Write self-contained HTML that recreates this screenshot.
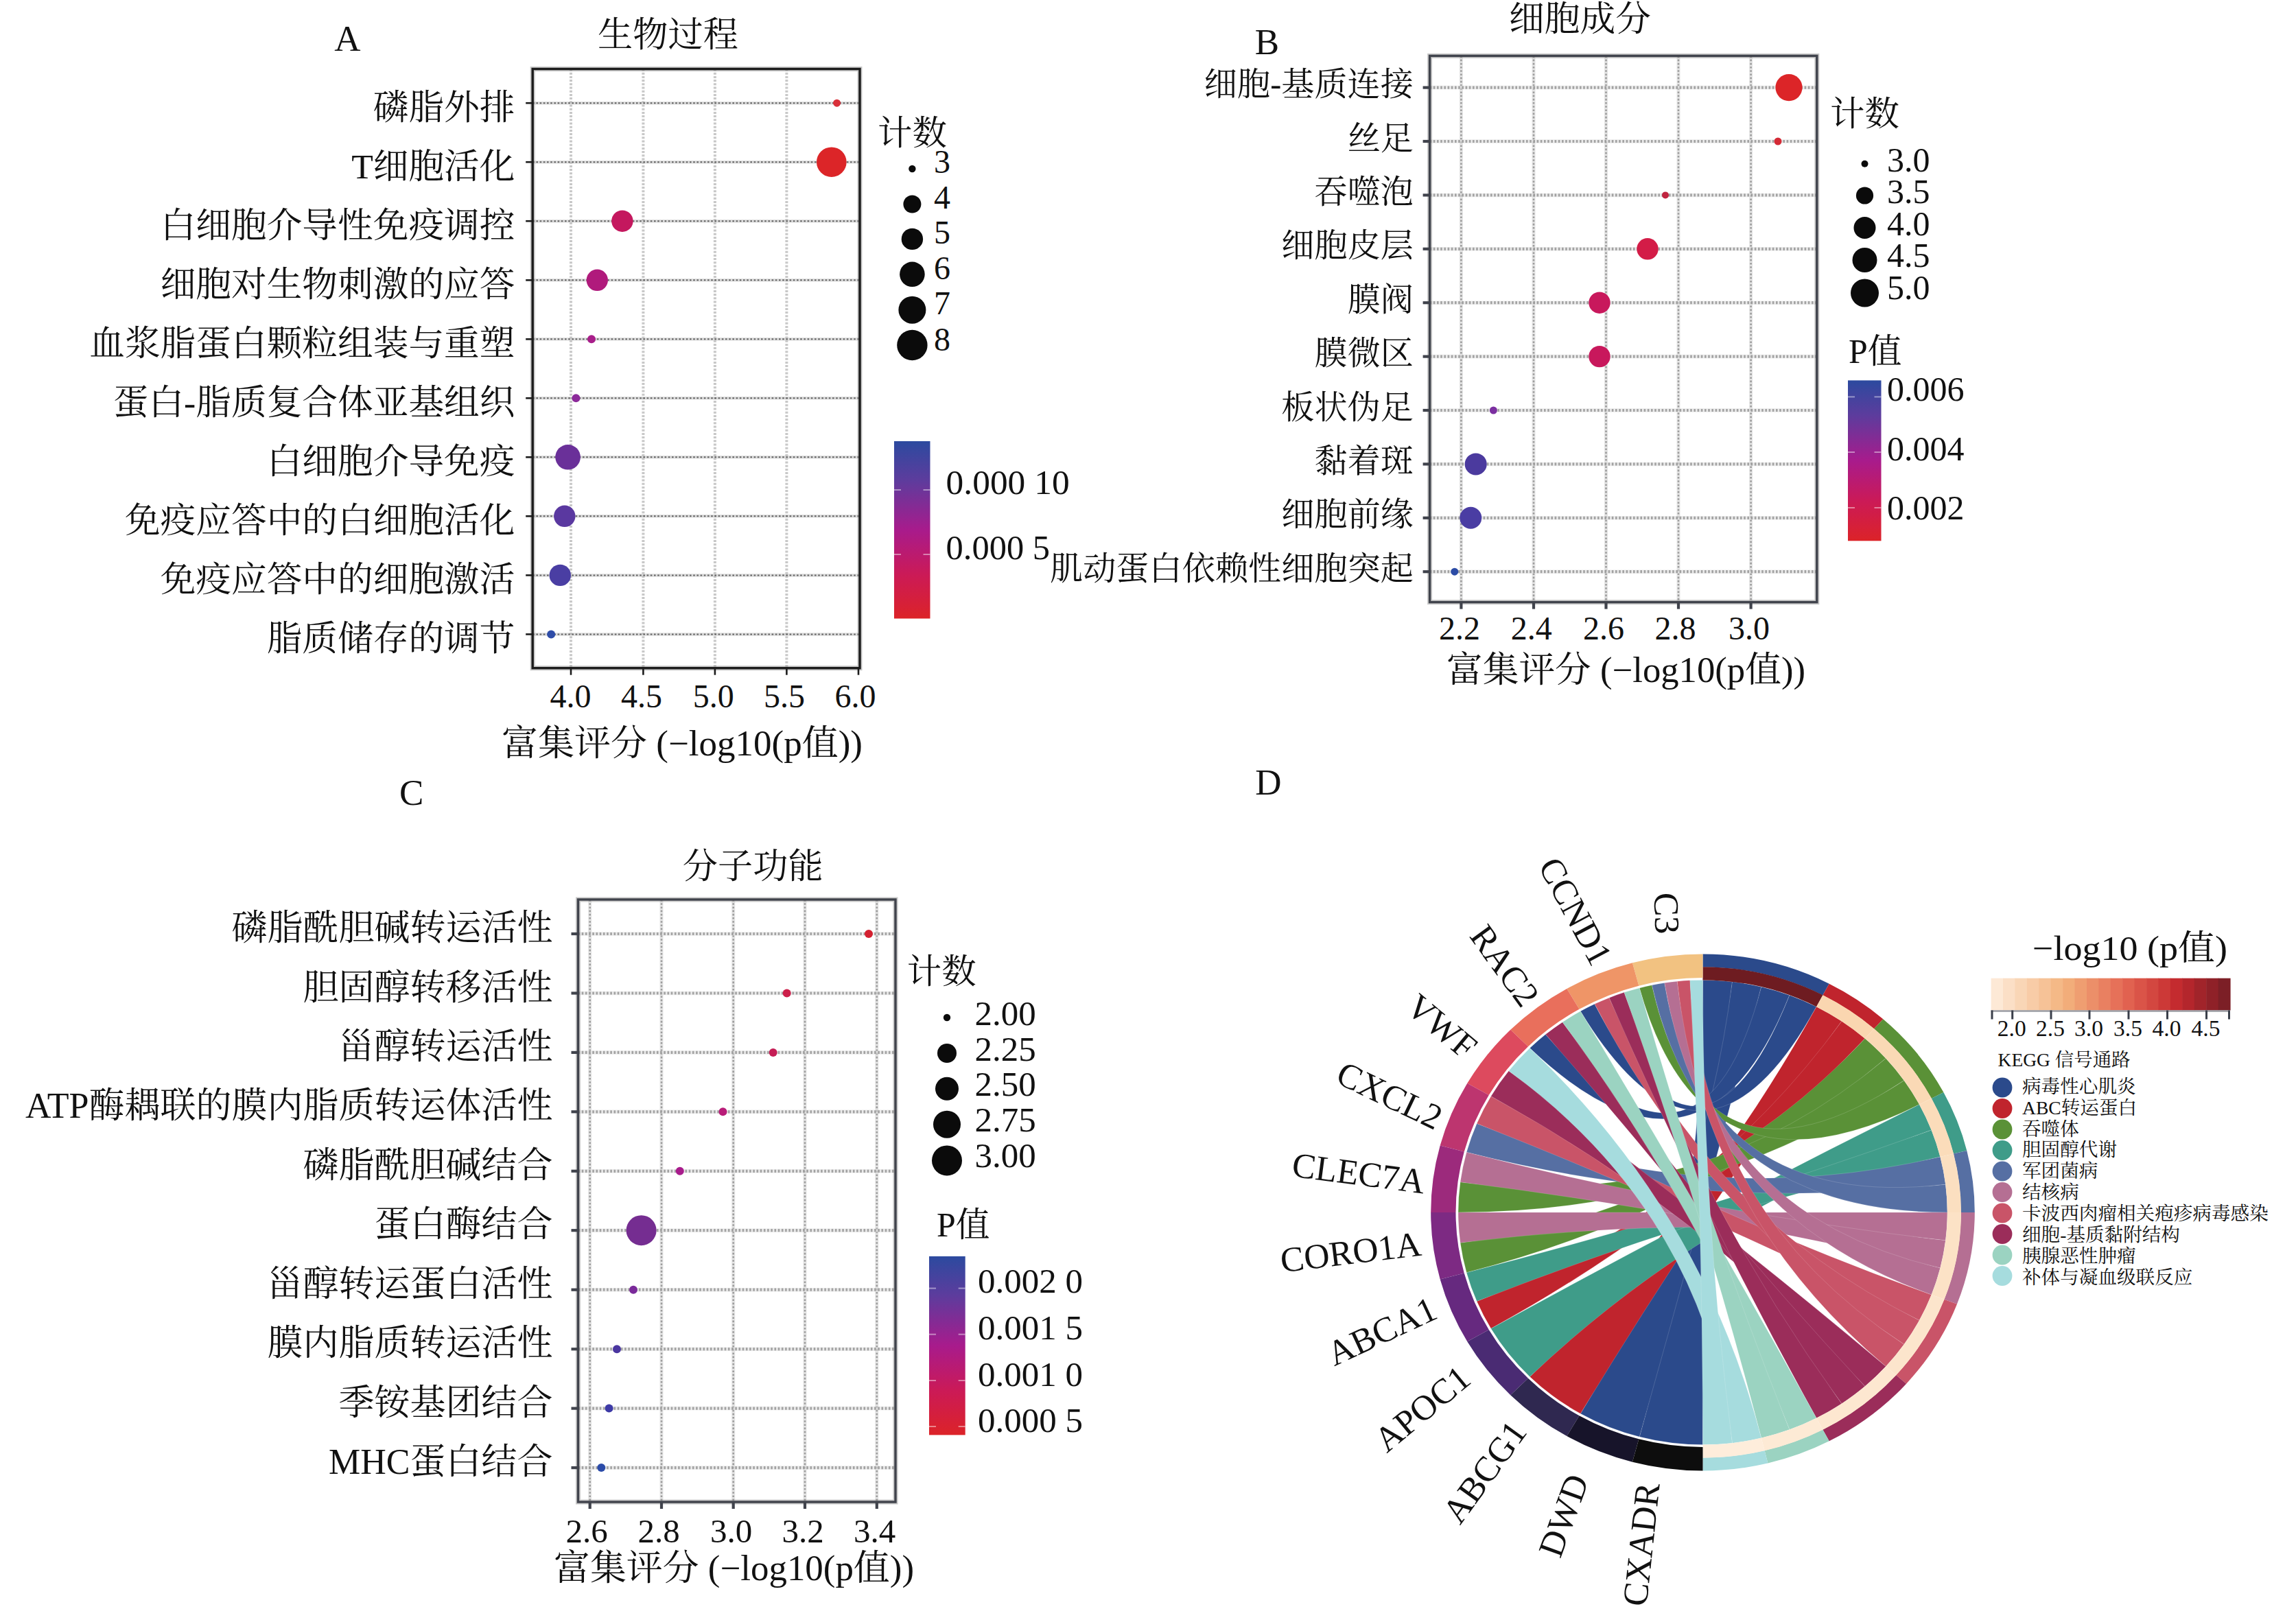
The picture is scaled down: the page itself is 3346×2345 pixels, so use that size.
<!DOCTYPE html><html><head><meta charset="utf-8"><title>figure</title><style>html,body{margin:0;padding:0;background:#fff}svg{display:block}</style></head><body><svg width="3346" height="2345" viewBox="0 0 3346 2345" font-family='"Liberation Serif","Noto Serif CJK SC",serif'>
<rect width="3346" height="2345" fill="#fff"/>
<text x="506.3" y="74.0" font-size="53" text-anchor="middle" fill="#111">A</text>
<text x="871.0" y="68.0" font-size="51.5" textLength="205.0" lengthAdjust="spacingAndGlyphs" fill="#111">生物过程</text>
<line x1="832.0" y1="100.5" x2="832.0" y2="973.7" stroke="#9a9a9a" stroke-opacity=".55" stroke-width="4" stroke-dasharray="3 2.2"/>
<line x1="937.4" y1="100.5" x2="937.4" y2="973.7" stroke="#9a9a9a" stroke-opacity=".55" stroke-width="4" stroke-dasharray="3 2.2"/>
<line x1="1041.9" y1="100.5" x2="1041.9" y2="973.7" stroke="#9a9a9a" stroke-opacity=".55" stroke-width="4" stroke-dasharray="3 2.2"/>
<line x1="1146.4" y1="100.5" x2="1146.4" y2="973.7" stroke="#9a9a9a" stroke-opacity=".55" stroke-width="4" stroke-dasharray="3 2.2"/>
<line x1="776.2" y1="150.2" x2="1253.0" y2="150.2" stroke="#bbb" stroke-opacity=".5" stroke-width="4.5"/>
<line x1="776.2" y1="150.2" x2="1253.0" y2="150.2" stroke="#444" stroke-opacity=".8" stroke-width="2" stroke-dasharray="2.6 2.6"/>
<line x1="776.2" y1="236.2" x2="1253.0" y2="236.2" stroke="#bbb" stroke-opacity=".5" stroke-width="4.5"/>
<line x1="776.2" y1="236.2" x2="1253.0" y2="236.2" stroke="#444" stroke-opacity=".8" stroke-width="2" stroke-dasharray="2.6 2.6"/>
<line x1="776.2" y1="322.2" x2="1253.0" y2="322.2" stroke="#bbb" stroke-opacity=".5" stroke-width="4.5"/>
<line x1="776.2" y1="322.2" x2="1253.0" y2="322.2" stroke="#444" stroke-opacity=".8" stroke-width="2" stroke-dasharray="2.6 2.6"/>
<line x1="776.2" y1="408.3" x2="1253.0" y2="408.3" stroke="#bbb" stroke-opacity=".5" stroke-width="4.5"/>
<line x1="776.2" y1="408.3" x2="1253.0" y2="408.3" stroke="#444" stroke-opacity=".8" stroke-width="2" stroke-dasharray="2.6 2.6"/>
<line x1="776.2" y1="494.3" x2="1253.0" y2="494.3" stroke="#bbb" stroke-opacity=".5" stroke-width="4.5"/>
<line x1="776.2" y1="494.3" x2="1253.0" y2="494.3" stroke="#444" stroke-opacity=".8" stroke-width="2" stroke-dasharray="2.6 2.6"/>
<line x1="776.2" y1="580.3" x2="1253.0" y2="580.3" stroke="#bbb" stroke-opacity=".5" stroke-width="4.5"/>
<line x1="776.2" y1="580.3" x2="1253.0" y2="580.3" stroke="#444" stroke-opacity=".8" stroke-width="2" stroke-dasharray="2.6 2.6"/>
<line x1="776.2" y1="666.3" x2="1253.0" y2="666.3" stroke="#bbb" stroke-opacity=".5" stroke-width="4.5"/>
<line x1="776.2" y1="666.3" x2="1253.0" y2="666.3" stroke="#444" stroke-opacity=".8" stroke-width="2" stroke-dasharray="2.6 2.6"/>
<line x1="776.2" y1="752.3" x2="1253.0" y2="752.3" stroke="#bbb" stroke-opacity=".5" stroke-width="4.5"/>
<line x1="776.2" y1="752.3" x2="1253.0" y2="752.3" stroke="#444" stroke-opacity=".8" stroke-width="2" stroke-dasharray="2.6 2.6"/>
<line x1="776.2" y1="838.4" x2="1253.0" y2="838.4" stroke="#bbb" stroke-opacity=".5" stroke-width="4.5"/>
<line x1="776.2" y1="838.4" x2="1253.0" y2="838.4" stroke="#444" stroke-opacity=".8" stroke-width="2" stroke-dasharray="2.6 2.6"/>
<line x1="776.2" y1="924.4" x2="1253.0" y2="924.4" stroke="#bbb" stroke-opacity=".5" stroke-width="4.5"/>
<line x1="776.2" y1="924.4" x2="1253.0" y2="924.4" stroke="#444" stroke-opacity=".8" stroke-width="2" stroke-dasharray="2.6 2.6"/>
<rect x="776.2" y="100.5" width="476.8" height="873.2" fill="none" stroke="#888" stroke-opacity=".45" stroke-width="7"/>
<rect x="776.2" y="100.5" width="476.8" height="873.2" fill="none" stroke="#1c1c1c" stroke-width="3.4"/>
<line x1="766.2" y1="150.2" x2="776.2" y2="150.2" stroke="#1c1c1c" stroke-width="2.6"/>
<line x1="766.2" y1="236.2" x2="776.2" y2="236.2" stroke="#1c1c1c" stroke-width="2.6"/>
<line x1="766.2" y1="322.2" x2="776.2" y2="322.2" stroke="#1c1c1c" stroke-width="2.6"/>
<line x1="766.2" y1="408.3" x2="776.2" y2="408.3" stroke="#1c1c1c" stroke-width="2.6"/>
<line x1="766.2" y1="494.3" x2="776.2" y2="494.3" stroke="#1c1c1c" stroke-width="2.6"/>
<line x1="766.2" y1="580.3" x2="776.2" y2="580.3" stroke="#1c1c1c" stroke-width="2.6"/>
<line x1="766.2" y1="666.3" x2="776.2" y2="666.3" stroke="#1c1c1c" stroke-width="2.6"/>
<line x1="766.2" y1="752.3" x2="776.2" y2="752.3" stroke="#1c1c1c" stroke-width="2.6"/>
<line x1="766.2" y1="838.4" x2="776.2" y2="838.4" stroke="#1c1c1c" stroke-width="2.6"/>
<line x1="766.2" y1="924.4" x2="776.2" y2="924.4" stroke="#1c1c1c" stroke-width="2.6"/>
<line x1="832.0" y1="973.7" x2="832.0" y2="983.7" stroke="#1c1c1c" stroke-width="2.6"/>
<line x1="937.4" y1="973.7" x2="937.4" y2="983.7" stroke="#1c1c1c" stroke-width="2.6"/>
<line x1="1041.9" y1="973.7" x2="1041.9" y2="983.7" stroke="#1c1c1c" stroke-width="2.6"/>
<line x1="1146.4" y1="973.7" x2="1146.4" y2="983.7" stroke="#1c1c1c" stroke-width="2.6"/>
<line x1="1251.0" y1="973.7" x2="1251.0" y2="983.7" stroke="#1c1c1c" stroke-width="2.6"/>
<circle cx="1219.6" cy="150.2" r="5.5" fill="#d9303a"/>
<circle cx="1211.8" cy="236.2" r="21.8" fill="#dc2528"/>
<circle cx="906.9" cy="322.2" r="15.7" fill="#c4185e"/>
<circle cx="870.3" cy="408.3" r="15.7" fill="#b01a7c"/>
<circle cx="862.0" cy="494.3" r="6.0" fill="#a81e8a"/>
<circle cx="839.4" cy="580.3" r="6.0" fill="#8c2a9a"/>
<circle cx="827.6" cy="666.3" r="18.3" fill="#6a3099"/>
<circle cx="822.8" cy="752.3" r="15.7" fill="#5a38a0"/>
<circle cx="816.3" cy="838.4" r="15.7" fill="#4a3ea3"/>
<circle cx="803.2" cy="924.4" r="6.0" fill="#2f4da8"/>
<text x="750.5" y="173.7" font-size="51.7" text-anchor="end" fill="#111">磷脂外排</text>
<text x="750.5" y="259.7" font-size="51.7" text-anchor="end" fill="#111">T细胞活化</text>
<text x="750.5" y="345.7" font-size="51.7" text-anchor="end" fill="#111">白细胞介导性免疫调控</text>
<text x="750.5" y="431.8" font-size="51.7" text-anchor="end" fill="#111">细胞对生物刺激的应答</text>
<text x="750.5" y="517.8" font-size="51.7" text-anchor="end" fill="#111">血浆脂蛋白颗粒组装与重塑</text>
<text x="750.5" y="603.8" font-size="51.7" text-anchor="end" fill="#111">蛋白-脂质复合体亚基组织</text>
<text x="750.5" y="689.8" font-size="51.7" text-anchor="end" fill="#111">白细胞介导免疫</text>
<text x="750.5" y="775.8" font-size="51.7" text-anchor="end" fill="#111">免疫应答中的白细胞活化</text>
<text x="750.5" y="861.9" font-size="51.7" text-anchor="end" fill="#111">免疫应答中的细胞激活</text>
<text x="750.5" y="947.9" font-size="51.7" text-anchor="end" fill="#111">脂质储存的调节</text>
<text x="831.5" y="1030.5" font-size="48" text-anchor="middle" fill="#111">4.0</text>
<text x="935.0" y="1030.5" font-size="48" text-anchor="middle" fill="#111">4.5</text>
<text x="1039.7" y="1030.5" font-size="48" text-anchor="middle" fill="#111">5.0</text>
<text x="1143.0" y="1030.5" font-size="48" text-anchor="middle" fill="#111">5.5</text>
<text x="1246.6" y="1030.5" font-size="48" text-anchor="middle" fill="#111">6.0</text>
<text x="731.0" y="1101.0" font-size="52" textLength="526.0" lengthAdjust="spacingAndGlyphs" fill="#111">富集评分 (−log10(p值))</text>
<text x="1279.0" y="211.0" font-size="50.5" fill="#111">计数</text>
<circle cx="1329.4" cy="246.0" r="5.2" fill="#0b0b0b"/>
<circle cx="1329.4" cy="297.5" r="13.0" fill="#0b0b0b"/>
<circle cx="1329.4" cy="348.4" r="15.7" fill="#0b0b0b"/>
<circle cx="1329.4" cy="399.8" r="18.3" fill="#0b0b0b"/>
<circle cx="1329.4" cy="451.7" r="20.0" fill="#0b0b0b"/>
<circle cx="1329.4" cy="503.0" r="22.2" fill="#0b0b0b"/>
<text x="1361.0" y="251.7" font-size="48" fill="#111">3</text>
<text x="1361.0" y="303.6" font-size="48" fill="#111">4</text>
<text x="1361.0" y="355.0" font-size="48" fill="#111">5</text>
<text x="1361.0" y="407.0" font-size="48" fill="#111">6</text>
<text x="1361.0" y="458.0" font-size="48" fill="#111">7</text>
<text x="1361.0" y="510.5" font-size="48" fill="#111">8</text>
<defs><linearGradient id="gA" x1="0" y1="0" x2="0" y2="1"><stop offset="0" stop-color="#2c4a9f"/><stop offset=".22" stop-color="#5d3c9d"/><stop offset=".5" stop-color="#a81b8c"/><stop offset=".75" stop-color="#cb1a57"/><stop offset="1" stop-color="#dc2328"/></linearGradient></defs>
<rect x="1303.0" y="643.0" width="52.5" height="258.5" fill="url(#gA)"/>
<line x1="1303.0" y1="714.0" x2="1313.0" y2="714.0" stroke="#fff" stroke-opacity=".45" stroke-width="2"/>
<line x1="1345.5" y1="714.0" x2="1355.5" y2="714.0" stroke="#fff" stroke-opacity=".45" stroke-width="2"/>
<line x1="1303.0" y1="808.0" x2="1313.0" y2="808.0" stroke="#fff" stroke-opacity=".45" stroke-width="2"/>
<line x1="1345.5" y1="808.0" x2="1355.5" y2="808.0" stroke="#fff" stroke-opacity=".45" stroke-width="2"/>
<text x="1378.6" y="720.0" font-size="50" textLength="180.0" lengthAdjust="spacingAndGlyphs" fill="#111">0.000 10</text>
<text x="1378.6" y="814.5" font-size="50" textLength="151.5" lengthAdjust="spacingAndGlyphs" fill="#111">0.000 5</text>
<text x="1846.5" y="79.0" font-size="53" text-anchor="middle" fill="#111">B</text>
<text x="2199.0" y="45.0" font-size="51.5" textLength="207.0" lengthAdjust="spacingAndGlyphs" fill="#111">细胞成分</text>
<line x1="2129.4" y1="81.4" x2="2129.4" y2="877.6" stroke="#ccc" stroke-opacity=".5" stroke-width="5"/>
<line x1="2129.4" y1="81.4" x2="2129.4" y2="877.6" stroke="#777" stroke-opacity=".65" stroke-width="2.6" stroke-dasharray="2.6 2.6"/>
<line x1="2235.0" y1="81.4" x2="2235.0" y2="877.6" stroke="#ccc" stroke-opacity=".5" stroke-width="5"/>
<line x1="2235.0" y1="81.4" x2="2235.0" y2="877.6" stroke="#777" stroke-opacity=".65" stroke-width="2.6" stroke-dasharray="2.6 2.6"/>
<line x1="2340.5" y1="81.4" x2="2340.5" y2="877.6" stroke="#ccc" stroke-opacity=".5" stroke-width="5"/>
<line x1="2340.5" y1="81.4" x2="2340.5" y2="877.6" stroke="#777" stroke-opacity=".65" stroke-width="2.6" stroke-dasharray="2.6 2.6"/>
<line x1="2446.0" y1="81.4" x2="2446.0" y2="877.6" stroke="#ccc" stroke-opacity=".5" stroke-width="5"/>
<line x1="2446.0" y1="81.4" x2="2446.0" y2="877.6" stroke="#777" stroke-opacity=".65" stroke-width="2.6" stroke-dasharray="2.6 2.6"/>
<line x1="2551.6" y1="81.4" x2="2551.6" y2="877.6" stroke="#ccc" stroke-opacity=".5" stroke-width="5"/>
<line x1="2551.6" y1="81.4" x2="2551.6" y2="877.6" stroke="#777" stroke-opacity=".65" stroke-width="2.6" stroke-dasharray="2.6 2.6"/>
<line x1="2083.6" y1="127.6" x2="2647.8" y2="127.6" stroke="#ddd" stroke-opacity=".6" stroke-width="5.5"/>
<line x1="2083.6" y1="127.6" x2="2647.8" y2="127.6" stroke="#858585" stroke-opacity=".7" stroke-width="4.2" stroke-dasharray="2.6 2.6"/>
<line x1="2083.6" y1="206.0" x2="2647.8" y2="206.0" stroke="#ddd" stroke-opacity=".6" stroke-width="5.5"/>
<line x1="2083.6" y1="206.0" x2="2647.8" y2="206.0" stroke="#858585" stroke-opacity=".7" stroke-width="4.2" stroke-dasharray="2.6 2.6"/>
<line x1="2083.6" y1="284.4" x2="2647.8" y2="284.4" stroke="#ddd" stroke-opacity=".6" stroke-width="5.5"/>
<line x1="2083.6" y1="284.4" x2="2647.8" y2="284.4" stroke="#858585" stroke-opacity=".7" stroke-width="4.2" stroke-dasharray="2.6 2.6"/>
<line x1="2083.6" y1="362.8" x2="2647.8" y2="362.8" stroke="#ddd" stroke-opacity=".6" stroke-width="5.5"/>
<line x1="2083.6" y1="362.8" x2="2647.8" y2="362.8" stroke="#858585" stroke-opacity=".7" stroke-width="4.2" stroke-dasharray="2.6 2.6"/>
<line x1="2083.6" y1="441.2" x2="2647.8" y2="441.2" stroke="#ddd" stroke-opacity=".6" stroke-width="5.5"/>
<line x1="2083.6" y1="441.2" x2="2647.8" y2="441.2" stroke="#858585" stroke-opacity=".7" stroke-width="4.2" stroke-dasharray="2.6 2.6"/>
<line x1="2083.6" y1="519.6" x2="2647.8" y2="519.6" stroke="#ddd" stroke-opacity=".6" stroke-width="5.5"/>
<line x1="2083.6" y1="519.6" x2="2647.8" y2="519.6" stroke="#858585" stroke-opacity=".7" stroke-width="4.2" stroke-dasharray="2.6 2.6"/>
<line x1="2083.6" y1="598.0" x2="2647.8" y2="598.0" stroke="#ddd" stroke-opacity=".6" stroke-width="5.5"/>
<line x1="2083.6" y1="598.0" x2="2647.8" y2="598.0" stroke="#858585" stroke-opacity=".7" stroke-width="4.2" stroke-dasharray="2.6 2.6"/>
<line x1="2083.6" y1="676.4" x2="2647.8" y2="676.4" stroke="#ddd" stroke-opacity=".6" stroke-width="5.5"/>
<line x1="2083.6" y1="676.4" x2="2647.8" y2="676.4" stroke="#858585" stroke-opacity=".7" stroke-width="4.2" stroke-dasharray="2.6 2.6"/>
<line x1="2083.6" y1="754.8" x2="2647.8" y2="754.8" stroke="#ddd" stroke-opacity=".6" stroke-width="5.5"/>
<line x1="2083.6" y1="754.8" x2="2647.8" y2="754.8" stroke="#858585" stroke-opacity=".7" stroke-width="4.2" stroke-dasharray="2.6 2.6"/>
<line x1="2083.6" y1="833.2" x2="2647.8" y2="833.2" stroke="#ddd" stroke-opacity=".6" stroke-width="5.5"/>
<line x1="2083.6" y1="833.2" x2="2647.8" y2="833.2" stroke="#858585" stroke-opacity=".7" stroke-width="4.2" stroke-dasharray="2.6 2.6"/>
<rect x="2083.6" y="81.4" width="564.2" height="796.2" fill="none" stroke="#888" stroke-opacity=".45" stroke-width="7"/>
<rect x="2083.6" y="81.4" width="564.2" height="796.2" fill="none" stroke="#40434c" stroke-width="3.4"/>
<line x1="2073.6" y1="127.6" x2="2083.6" y2="127.6" stroke="#40434c" stroke-width="4.2"/>
<line x1="2073.6" y1="206.0" x2="2083.6" y2="206.0" stroke="#40434c" stroke-width="4.2"/>
<line x1="2073.6" y1="284.4" x2="2083.6" y2="284.4" stroke="#40434c" stroke-width="4.2"/>
<line x1="2073.6" y1="362.8" x2="2083.6" y2="362.8" stroke="#40434c" stroke-width="4.2"/>
<line x1="2073.6" y1="441.2" x2="2083.6" y2="441.2" stroke="#40434c" stroke-width="4.2"/>
<line x1="2073.6" y1="519.6" x2="2083.6" y2="519.6" stroke="#40434c" stroke-width="4.2"/>
<line x1="2073.6" y1="598.0" x2="2083.6" y2="598.0" stroke="#40434c" stroke-width="4.2"/>
<line x1="2073.6" y1="676.4" x2="2083.6" y2="676.4" stroke="#40434c" stroke-width="4.2"/>
<line x1="2073.6" y1="754.8" x2="2083.6" y2="754.8" stroke="#40434c" stroke-width="4.2"/>
<line x1="2073.6" y1="833.2" x2="2083.6" y2="833.2" stroke="#40434c" stroke-width="4.2"/>
<line x1="2129.4" y1="877.6" x2="2129.4" y2="887.6" stroke="#40434c" stroke-width="4.2"/>
<line x1="2235.0" y1="877.6" x2="2235.0" y2="887.6" stroke="#40434c" stroke-width="4.2"/>
<line x1="2340.5" y1="877.6" x2="2340.5" y2="887.6" stroke="#40434c" stroke-width="4.2"/>
<line x1="2446.0" y1="877.6" x2="2446.0" y2="887.6" stroke="#40434c" stroke-width="4.2"/>
<line x1="2551.6" y1="877.6" x2="2551.6" y2="887.6" stroke="#40434c" stroke-width="4.2"/>
<circle cx="2607.0" cy="127.6" r="19.6" fill="#dc2528"/>
<circle cx="2591.0" cy="206.0" r="5.5" fill="#d42a35"/>
<circle cx="2427.0" cy="284.4" r="5.0" fill="#c0243f"/>
<circle cx="2401.0" cy="362.8" r="15.7" fill="#d31c47"/>
<circle cx="2331.0" cy="441.2" r="15.7" fill="#c8185c"/>
<circle cx="2331.0" cy="519.6" r="15.7" fill="#c8185c"/>
<circle cx="2176.4" cy="598.0" r="5.5" fill="#7b2fa0"/>
<circle cx="2150.7" cy="676.4" r="16.0" fill="#4b3a9e"/>
<circle cx="2143.3" cy="754.8" r="16.0" fill="#4a3da3"/>
<circle cx="2119.8" cy="833.2" r="5.5" fill="#2b4ba5"/>
<text x="2060.0" y="139.1" font-size="48.2" text-anchor="end" fill="#111">细胞-基质连接</text>
<text x="2060.0" y="217.5" font-size="48.2" text-anchor="end" fill="#111">丝足</text>
<text x="2060.0" y="295.9" font-size="48.2" text-anchor="end" fill="#111">吞噬泡</text>
<text x="2060.0" y="374.3" font-size="48.2" text-anchor="end" fill="#111">细胞皮层</text>
<text x="2060.0" y="452.7" font-size="48.2" text-anchor="end" fill="#111">膜阀</text>
<text x="2060.0" y="531.1" font-size="48.2" text-anchor="end" fill="#111">膜微区</text>
<text x="2060.0" y="609.5" font-size="48.2" text-anchor="end" fill="#111">板状伪足</text>
<text x="2060.0" y="687.9" font-size="48.2" text-anchor="end" fill="#111">黏着斑</text>
<text x="2060.0" y="766.3" font-size="48.2" text-anchor="end" fill="#111">细胞前缘</text>
<text x="2060.0" y="844.7" font-size="48.2" text-anchor="end" fill="#111">肌动蛋白依赖性细胞突起</text>
<text x="2127.0" y="932.0" font-size="48" text-anchor="middle" fill="#111">2.2</text>
<text x="2231.7" y="932.0" font-size="48" text-anchor="middle" fill="#111">2.4</text>
<text x="2337.0" y="932.0" font-size="48" text-anchor="middle" fill="#111">2.6</text>
<text x="2441.6" y="932.0" font-size="48" text-anchor="middle" fill="#111">2.8</text>
<text x="2549.0" y="932.0" font-size="48" text-anchor="middle" fill="#111">3.0</text>
<text x="2108.0" y="994.0" font-size="52" textLength="523.0" lengthAdjust="spacingAndGlyphs" fill="#111">富集评分 (−log10(p值))</text>
<text x="2667.0" y="183.0" font-size="50.5" fill="#111">计数</text>
<circle cx="2717.5" cy="238.7" r="5.0" fill="#0b0b0b"/>
<circle cx="2717.5" cy="285.0" r="12.6" fill="#0b0b0b"/>
<circle cx="2717.5" cy="332.0" r="16.0" fill="#0b0b0b"/>
<circle cx="2717.5" cy="379.0" r="18.0" fill="#0b0b0b"/>
<circle cx="2717.5" cy="427.0" r="20.5" fill="#0b0b0b"/>
<text x="2750.0" y="250.0" font-size="50" fill="#111">3.0</text>
<text x="2750.0" y="296.0" font-size="50" fill="#111">3.5</text>
<text x="2750.0" y="343.0" font-size="50" fill="#111">4.0</text>
<text x="2750.0" y="389.0" font-size="50" fill="#111">4.5</text>
<text x="2750.0" y="435.5" font-size="50" fill="#111">5.0</text>
<text x="2694.0" y="529.0" font-size="50" textLength="77.5" lengthAdjust="spacingAndGlyphs" fill="#111">P值</text>
<defs><linearGradient id="gB" x1="0" y1="0" x2="0" y2="1"><stop offset="0" stop-color="#2c4a9f"/><stop offset=".22" stop-color="#5d3c9d"/><stop offset=".5" stop-color="#a81b8c"/><stop offset=".75" stop-color="#cb1a57"/><stop offset="1" stop-color="#dc2328"/></linearGradient></defs>
<rect x="2693.0" y="554.4" width="48.5" height="233.9" fill="url(#gB)"/>
<line x1="2693.0" y1="578.4" x2="2703.0" y2="578.4" stroke="#fff" stroke-opacity=".45" stroke-width="2"/>
<line x1="2731.5" y1="578.4" x2="2741.5" y2="578.4" stroke="#fff" stroke-opacity=".45" stroke-width="2"/>
<line x1="2693.0" y1="659.0" x2="2703.0" y2="659.0" stroke="#fff" stroke-opacity=".45" stroke-width="2"/>
<line x1="2731.5" y1="659.0" x2="2741.5" y2="659.0" stroke="#fff" stroke-opacity=".45" stroke-width="2"/>
<line x1="2693.0" y1="740.0" x2="2703.0" y2="740.0" stroke="#fff" stroke-opacity=".45" stroke-width="2"/>
<line x1="2731.5" y1="740.0" x2="2741.5" y2="740.0" stroke="#fff" stroke-opacity=".45" stroke-width="2"/>
<text x="2750.0" y="583.6" font-size="50" fill="#111">0.006</text>
<text x="2750.0" y="670.7" font-size="50" fill="#111">0.004</text>
<text x="2750.0" y="757.0" font-size="50" fill="#111">0.002</text>
<text x="599.8" y="1173.0" font-size="53" text-anchor="middle" fill="#111">C</text>
<text x="994.7" y="1280.0" font-size="51.5" textLength="205.0" lengthAdjust="spacingAndGlyphs" fill="#111">分子功能</text>
<line x1="859.7" y1="1311.0" x2="859.7" y2="2189.0" stroke="#ccc" stroke-opacity=".5" stroke-width="5"/>
<line x1="859.7" y1="1311.0" x2="859.7" y2="2189.0" stroke="#777" stroke-opacity=".65" stroke-width="2.6" stroke-dasharray="2.6 2.6"/>
<line x1="964.0" y1="1311.0" x2="964.0" y2="2189.0" stroke="#ccc" stroke-opacity=".5" stroke-width="5"/>
<line x1="964.0" y1="1311.0" x2="964.0" y2="2189.0" stroke="#777" stroke-opacity=".65" stroke-width="2.6" stroke-dasharray="2.6 2.6"/>
<line x1="1068.7" y1="1311.0" x2="1068.7" y2="2189.0" stroke="#ccc" stroke-opacity=".5" stroke-width="5"/>
<line x1="1068.7" y1="1311.0" x2="1068.7" y2="2189.0" stroke="#777" stroke-opacity=".65" stroke-width="2.6" stroke-dasharray="2.6 2.6"/>
<line x1="1173.0" y1="1311.0" x2="1173.0" y2="2189.0" stroke="#ccc" stroke-opacity=".5" stroke-width="5"/>
<line x1="1173.0" y1="1311.0" x2="1173.0" y2="2189.0" stroke="#777" stroke-opacity=".65" stroke-width="2.6" stroke-dasharray="2.6 2.6"/>
<line x1="1277.8" y1="1311.0" x2="1277.8" y2="2189.0" stroke="#ccc" stroke-opacity=".5" stroke-width="5"/>
<line x1="1277.8" y1="1311.0" x2="1277.8" y2="2189.0" stroke="#777" stroke-opacity=".65" stroke-width="2.6" stroke-dasharray="2.6 2.6"/>
<line x1="842.5" y1="1361.0" x2="1305.0" y2="1361.0" stroke="#ddd" stroke-opacity=".6" stroke-width="5.5"/>
<line x1="842.5" y1="1361.0" x2="1305.0" y2="1361.0" stroke="#858585" stroke-opacity=".7" stroke-width="4.2" stroke-dasharray="2.6 2.6"/>
<line x1="842.5" y1="1447.5" x2="1305.0" y2="1447.5" stroke="#ddd" stroke-opacity=".6" stroke-width="5.5"/>
<line x1="842.5" y1="1447.5" x2="1305.0" y2="1447.5" stroke="#858585" stroke-opacity=".7" stroke-width="4.2" stroke-dasharray="2.6 2.6"/>
<line x1="842.5" y1="1533.9" x2="1305.0" y2="1533.9" stroke="#ddd" stroke-opacity=".6" stroke-width="5.5"/>
<line x1="842.5" y1="1533.9" x2="1305.0" y2="1533.9" stroke="#858585" stroke-opacity=".7" stroke-width="4.2" stroke-dasharray="2.6 2.6"/>
<line x1="842.5" y1="1620.3" x2="1305.0" y2="1620.3" stroke="#ddd" stroke-opacity=".6" stroke-width="5.5"/>
<line x1="842.5" y1="1620.3" x2="1305.0" y2="1620.3" stroke="#858585" stroke-opacity=".7" stroke-width="4.2" stroke-dasharray="2.6 2.6"/>
<line x1="842.5" y1="1706.8" x2="1305.0" y2="1706.8" stroke="#ddd" stroke-opacity=".6" stroke-width="5.5"/>
<line x1="842.5" y1="1706.8" x2="1305.0" y2="1706.8" stroke="#858585" stroke-opacity=".7" stroke-width="4.2" stroke-dasharray="2.6 2.6"/>
<line x1="842.5" y1="1793.2" x2="1305.0" y2="1793.2" stroke="#ddd" stroke-opacity=".6" stroke-width="5.5"/>
<line x1="842.5" y1="1793.2" x2="1305.0" y2="1793.2" stroke="#858585" stroke-opacity=".7" stroke-width="4.2" stroke-dasharray="2.6 2.6"/>
<line x1="842.5" y1="1879.7" x2="1305.0" y2="1879.7" stroke="#ddd" stroke-opacity=".6" stroke-width="5.5"/>
<line x1="842.5" y1="1879.7" x2="1305.0" y2="1879.7" stroke="#858585" stroke-opacity=".7" stroke-width="4.2" stroke-dasharray="2.6 2.6"/>
<line x1="842.5" y1="1966.2" x2="1305.0" y2="1966.2" stroke="#ddd" stroke-opacity=".6" stroke-width="5.5"/>
<line x1="842.5" y1="1966.2" x2="1305.0" y2="1966.2" stroke="#858585" stroke-opacity=".7" stroke-width="4.2" stroke-dasharray="2.6 2.6"/>
<line x1="842.5" y1="2052.6" x2="1305.0" y2="2052.6" stroke="#ddd" stroke-opacity=".6" stroke-width="5.5"/>
<line x1="842.5" y1="2052.6" x2="1305.0" y2="2052.6" stroke="#858585" stroke-opacity=".7" stroke-width="4.2" stroke-dasharray="2.6 2.6"/>
<line x1="842.5" y1="2139.1" x2="1305.0" y2="2139.1" stroke="#ddd" stroke-opacity=".6" stroke-width="5.5"/>
<line x1="842.5" y1="2139.1" x2="1305.0" y2="2139.1" stroke="#858585" stroke-opacity=".7" stroke-width="4.2" stroke-dasharray="2.6 2.6"/>
<rect x="842.5" y="1311.0" width="462.5" height="878.0" fill="none" stroke="#888" stroke-opacity=".45" stroke-width="7"/>
<rect x="842.5" y="1311.0" width="462.5" height="878.0" fill="none" stroke="#40434c" stroke-width="3.4"/>
<line x1="832.5" y1="1361.0" x2="842.5" y2="1361.0" stroke="#40434c" stroke-width="4.2"/>
<line x1="832.5" y1="1447.5" x2="842.5" y2="1447.5" stroke="#40434c" stroke-width="4.2"/>
<line x1="832.5" y1="1533.9" x2="842.5" y2="1533.9" stroke="#40434c" stroke-width="4.2"/>
<line x1="832.5" y1="1620.3" x2="842.5" y2="1620.3" stroke="#40434c" stroke-width="4.2"/>
<line x1="832.5" y1="1706.8" x2="842.5" y2="1706.8" stroke="#40434c" stroke-width="4.2"/>
<line x1="832.5" y1="1793.2" x2="842.5" y2="1793.2" stroke="#40434c" stroke-width="4.2"/>
<line x1="832.5" y1="1879.7" x2="842.5" y2="1879.7" stroke="#40434c" stroke-width="4.2"/>
<line x1="832.5" y1="1966.2" x2="842.5" y2="1966.2" stroke="#40434c" stroke-width="4.2"/>
<line x1="832.5" y1="2052.6" x2="842.5" y2="2052.6" stroke="#40434c" stroke-width="4.2"/>
<line x1="832.5" y1="2139.1" x2="842.5" y2="2139.1" stroke="#40434c" stroke-width="4.2"/>
<line x1="859.7" y1="2189.0" x2="859.7" y2="2199.0" stroke="#40434c" stroke-width="4.2"/>
<line x1="964.0" y1="2189.0" x2="964.0" y2="2199.0" stroke="#40434c" stroke-width="4.2"/>
<line x1="1068.7" y1="2189.0" x2="1068.7" y2="2199.0" stroke="#40434c" stroke-width="4.2"/>
<line x1="1173.0" y1="2189.0" x2="1173.0" y2="2199.0" stroke="#40434c" stroke-width="4.2"/>
<line x1="1277.8" y1="2189.0" x2="1277.8" y2="2199.0" stroke="#40434c" stroke-width="4.2"/>
<circle cx="1266.0" cy="1361.0" r="6.0" fill="#d42030"/>
<circle cx="1146.7" cy="1447.5" r="6.0" fill="#cc1f4a"/>
<circle cx="1126.7" cy="1533.9" r="6.0" fill="#c41d55"/>
<circle cx="1053.5" cy="1620.3" r="6.0" fill="#b81c78"/>
<circle cx="990.8" cy="1706.8" r="6.0" fill="#a81c8c"/>
<circle cx="934.6" cy="1793.2" r="22.0" fill="#752d91"/>
<circle cx="923.0" cy="1879.7" r="6.0" fill="#7a2a9a"/>
<circle cx="899.0" cy="1966.2" r="6.0" fill="#4a36a0"/>
<circle cx="887.6" cy="2052.6" r="6.0" fill="#3d3aa6"/>
<circle cx="876.3" cy="2139.1" r="6.0" fill="#2b4ba8"/>
<text x="805.5" y="1370.0" font-size="52" text-anchor="end" fill="#111">磷脂酰胆碱转运活性</text>
<text x="805.5" y="1456.5" font-size="52" text-anchor="end" fill="#111">胆固醇转移活性</text>
<text x="805.5" y="1542.9" font-size="52" text-anchor="end" fill="#111">甾醇转运活性</text>
<text x="805.5" y="1629.3" font-size="52" text-anchor="end" fill="#111">ATP酶耦联的膜内脂质转运体活性</text>
<text x="805.5" y="1715.8" font-size="52" text-anchor="end" fill="#111">磷脂酰胆碱结合</text>
<text x="805.5" y="1802.2" font-size="52" text-anchor="end" fill="#111">蛋白酶结合</text>
<text x="805.5" y="1888.7" font-size="52" text-anchor="end" fill="#111">甾醇转运蛋白活性</text>
<text x="805.5" y="1975.2" font-size="52" text-anchor="end" fill="#111">膜内脂质转运活性</text>
<text x="805.5" y="2061.6" font-size="52" text-anchor="end" fill="#111">季铵基团结合</text>
<text x="805.5" y="2148.1" font-size="52" text-anchor="end" fill="#111">MHC蛋白结合</text>
<text x="855.0" y="2248.0" font-size="49" text-anchor="middle" fill="#111">2.6</text>
<text x="960.0" y="2248.0" font-size="49" text-anchor="middle" fill="#111">2.8</text>
<text x="1065.7" y="2248.0" font-size="49" text-anchor="middle" fill="#111">3.0</text>
<text x="1170.0" y="2248.0" font-size="49" text-anchor="middle" fill="#111">3.2</text>
<text x="1274.7" y="2248.0" font-size="49" text-anchor="middle" fill="#111">3.4</text>
<text x="807.0" y="2303.0" font-size="52" textLength="525.0" lengthAdjust="spacingAndGlyphs" fill="#111">富集评分 (−log10(p值))</text>
<text x="1321.8" y="1432.6" font-size="50.5" fill="#111">计数</text>
<circle cx="1380.0" cy="1483.0" r="5.2" fill="#0b0b0b"/>
<circle cx="1380.0" cy="1535.0" r="14.0" fill="#0b0b0b"/>
<circle cx="1380.0" cy="1586.8" r="17.0" fill="#0b0b0b"/>
<circle cx="1380.0" cy="1638.7" r="20.0" fill="#0b0b0b"/>
<circle cx="1380.0" cy="1691.4" r="22.0" fill="#0b0b0b"/>
<text x="1420.6" y="1494.0" font-size="51" fill="#111">2.00</text>
<text x="1420.6" y="1545.5" font-size="51" fill="#111">2.25</text>
<text x="1420.6" y="1597.0" font-size="51" fill="#111">2.50</text>
<text x="1420.6" y="1649.0" font-size="51" fill="#111">2.75</text>
<text x="1420.6" y="1701.0" font-size="51" fill="#111">3.00</text>
<text x="1365.0" y="1802.0" font-size="50" textLength="77.5" lengthAdjust="spacingAndGlyphs" fill="#111">P值</text>
<defs><linearGradient id="gC" x1="0" y1="0" x2="0" y2="1"><stop offset="0" stop-color="#2c4a9f"/><stop offset=".22" stop-color="#5d3c9d"/><stop offset=".5" stop-color="#a81b8c"/><stop offset=".75" stop-color="#cb1a57"/><stop offset="1" stop-color="#dc2328"/></linearGradient></defs>
<rect x="1354.0" y="1831.0" width="52.7" height="260.4" fill="url(#gC)"/>
<line x1="1354.0" y1="1877.6" x2="1364.0" y2="1877.6" stroke="#fff" stroke-opacity=".45" stroke-width="2"/>
<line x1="1396.7" y1="1877.6" x2="1406.7" y2="1877.6" stroke="#fff" stroke-opacity=".45" stroke-width="2"/>
<line x1="1354.0" y1="1944.7" x2="1364.0" y2="1944.7" stroke="#fff" stroke-opacity=".45" stroke-width="2"/>
<line x1="1396.7" y1="1944.7" x2="1406.7" y2="1944.7" stroke="#fff" stroke-opacity=".45" stroke-width="2"/>
<line x1="1354.0" y1="2012.0" x2="1364.0" y2="2012.0" stroke="#fff" stroke-opacity=".45" stroke-width="2"/>
<line x1="1396.7" y1="2012.0" x2="1406.7" y2="2012.0" stroke="#fff" stroke-opacity=".45" stroke-width="2"/>
<line x1="1354.0" y1="2079.0" x2="1364.0" y2="2079.0" stroke="#fff" stroke-opacity=".45" stroke-width="2"/>
<line x1="1396.7" y1="2079.0" x2="1406.7" y2="2079.0" stroke="#fff" stroke-opacity=".45" stroke-width="2"/>
<text x="1425.0" y="1883.7" font-size="51" fill="#111">0.002 0</text>
<text x="1425.0" y="1952.0" font-size="51" fill="#111">0.001 5</text>
<text x="1425.0" y="2019.6" font-size="51" fill="#111">0.001 0</text>
<text x="1425.0" y="2087.0" font-size="51" fill="#111">0.000 5</text>
<text x="1848.5" y="1157.7" font-size="53" text-anchor="middle" fill="#111">D</text>
<g transform="translate(2481.5,1767.0) scale(1.0526,1)">
<path d="M0.00,-338.60Q0,0 -87.64,327.06A338.6,338.6 0 0 0 -0.00,338.60Q0,0 40.81,-336.13A338.6,338.6 0 0 0 0.00,-338.60Z" fill="#2b4a8b" stroke="#fff" stroke-opacity=".22" stroke-width=".7"/>
<path d="M40.81,-336.13Q0,0 -169.30,293.24A338.6,338.6 0 0 0 -87.64,327.06Q0,0 81.03,-328.76A338.6,338.6 0 0 0 40.81,-336.13Z" fill="#2b4a8b" stroke="#fff" stroke-opacity=".22" stroke-width=".7"/>
<path d="M81.03,-328.76Q0,0 -217.65,-259.38A338.6,338.6 0 0 0 -239.43,-239.43Q0,0 120.07,-316.60A338.6,338.6 0 0 0 81.03,-328.76Z" fill="#2b4a8b" stroke="#fff" stroke-opacity=".22" stroke-width=".7"/>
<path d="M120.07,-316.60Q0,0 -149.76,-303.68A338.6,338.6 0 0 0 -169.30,-293.24Q0,0 157.36,-299.82A338.6,338.6 0 0 0 120.07,-316.60Z" fill="#2b4a8b" stroke="#fff" stroke-opacity=".22" stroke-width=".7"/>
<path d="M157.36,-299.82Q0,0 -239.43,239.43A338.6,338.6 0 0 0 -169.30,293.24Q0,0 192.35,-278.66A338.6,338.6 0 0 0 157.36,-299.82Z" fill="#c0242d" stroke="#fff" stroke-opacity=".22" stroke-width=".7"/>
<path d="M192.35,-278.66Q0,0 -312.83,129.58A338.6,338.6 0 0 0 -293.24,169.30Q0,0 224.53,-253.45A338.6,338.6 0 0 0 192.35,-278.66Z" fill="#c0242d" stroke="#fff" stroke-opacity=".22" stroke-width=".7"/>
<path d="M224.53,-253.45Q0,0 -335.70,44.20A338.6,338.6 0 0 0 -327.06,87.64Q0,0 253.45,-224.53A338.6,338.6 0 0 0 224.53,-253.45Z" fill="#5a9137" stroke="#fff" stroke-opacity=".22" stroke-width=".7"/>
<path d="M253.45,-224.53Q0,0 -335.70,-44.20A338.6,338.6 0 0 0 -338.60,-0.00Q0,0 278.66,-192.35A338.6,338.6 0 0 0 253.45,-224.53Z" fill="#5a9137" stroke="#fff" stroke-opacity=".22" stroke-width=".7"/>
<path d="M278.66,-192.35Q0,0 -70.40,-331.20A338.6,338.6 0 0 0 -87.64,-327.06Q0,0 299.82,-157.36A338.6,338.6 0 0 0 278.66,-192.35Z" fill="#5a9137" stroke="#fff" stroke-opacity=".22" stroke-width=".7"/>
<path d="M299.82,-157.36Q0,0 -293.24,169.30A338.6,338.6 0 0 0 -239.43,239.43Q0,0 316.60,-120.07A338.6,338.6 0 0 0 299.82,-157.36Z" fill="#3f9c89" stroke="#fff" stroke-opacity=".22" stroke-width=".7"/>
<path d="M316.60,-120.07Q0,0 -327.06,87.64A338.6,338.6 0 0 0 -312.83,129.58Q0,0 328.76,-81.03A338.6,338.6 0 0 0 316.60,-120.07Z" fill="#3f9c89" stroke="#fff" stroke-opacity=".22" stroke-width=".7"/>
<path d="M328.76,-81.03Q0,0 -312.83,-129.58A338.6,338.6 0 0 0 -327.06,-87.64Q0,0 336.13,-40.81A338.6,338.6 0 0 0 328.76,-81.03Z" fill="#566fa3" stroke="#fff" stroke-opacity=".22" stroke-width=".7"/>
<path d="M336.13,-40.81Q0,0 -52.97,-334.43A338.6,338.6 0 0 0 -70.40,-331.20Q0,0 338.60,-0.00A338.6,338.6 0 0 0 336.13,-40.81Z" fill="#566fa3" stroke="#fff" stroke-opacity=".22" stroke-width=".7"/>
<path d="M338.60,-0.00Q0,0 -338.60,-0.00A338.6,338.6 0 0 0 -335.70,44.20Q0,0 336.13,40.81A338.6,338.6 0 0 0 338.60,-0.00Z" fill="#b56f93" stroke="#fff" stroke-opacity=".22" stroke-width=".7"/>
<path d="M336.13,40.81Q0,0 -327.06,-87.64A338.6,338.6 0 0 0 -335.70,-44.20Q0,0 328.76,81.03A338.6,338.6 0 0 0 336.13,40.81Z" fill="#b56f93" stroke="#fff" stroke-opacity=".22" stroke-width=".7"/>
<path d="M328.76,81.03Q0,0 -35.39,-336.75A338.6,338.6 0 0 0 -52.97,-334.43Q0,0 316.60,120.07A338.6,338.6 0 0 0 328.76,81.03Z" fill="#b56f93" stroke="#fff" stroke-opacity=".22" stroke-width=".7"/>
<path d="M316.60,120.07Q0,0 -293.24,-169.30A338.6,338.6 0 0 0 -312.83,-129.58Q0,0 299.82,157.36A338.6,338.6 0 0 0 316.60,120.07Z" fill="#c95468" stroke="#fff" stroke-opacity=".22" stroke-width=".7"/>
<path d="M299.82,157.36Q0,0 -129.58,-312.83A338.6,338.6 0 0 0 -149.76,-303.68Q0,0 278.66,192.35A338.6,338.6 0 0 0 299.82,157.36Z" fill="#c95468" stroke="#fff" stroke-opacity=".22" stroke-width=".7"/>
<path d="M278.66,192.35Q0,0 -17.72,-338.14A338.6,338.6 0 0 0 -35.39,-336.75Q0,0 253.45,224.53A338.6,338.6 0 0 0 278.66,192.35Z" fill="#c95468" stroke="#fff" stroke-opacity=".22" stroke-width=".7"/>
<path d="M253.45,224.53Q0,0 -268.63,-206.13A338.6,338.6 0 0 0 -293.24,-169.30Q0,0 224.53,253.45A338.6,338.6 0 0 0 253.45,224.53Z" fill="#9b2d5a" stroke="#fff" stroke-opacity=".22" stroke-width=".7"/>
<path d="M224.53,253.45Q0,0 -194.21,-277.36A338.6,338.6 0 0 0 -217.65,-259.38Q0,0 192.35,278.66A338.6,338.6 0 0 0 224.53,253.45Z" fill="#9b2d5a" stroke="#fff" stroke-opacity=".22" stroke-width=".7"/>
<path d="M192.35,278.66Q0,0 -108.84,-320.63A338.6,338.6 0 0 0 -129.58,-312.83Q0,0 157.36,299.82A338.6,338.6 0 0 0 192.35,278.66Z" fill="#9b2d5a" stroke="#fff" stroke-opacity=".22" stroke-width=".7"/>
<path d="M157.36,299.82Q0,0 -169.30,-293.24A338.6,338.6 0 0 0 -194.21,-277.36Q0,0 120.07,316.60A338.6,338.6 0 0 0 157.36,299.82Z" fill="#9bd3c1" stroke="#fff" stroke-opacity=".22" stroke-width=".7"/>
<path d="M120.07,316.60Q0,0 -87.64,-327.06A338.6,338.6 0 0 0 -108.84,-320.63Q0,0 81.03,328.76A338.6,338.6 0 0 0 120.07,316.60Z" fill="#9bd3c1" stroke="#fff" stroke-opacity=".22" stroke-width=".7"/>
<path d="M81.03,328.76Q0,0 -239.43,-239.43A338.6,338.6 0 0 0 -268.63,-206.13Q0,0 40.81,336.13A338.6,338.6 0 0 0 81.03,328.76Z" fill="#a6dcde" stroke="#fff" stroke-opacity=".22" stroke-width=".7"/>
<path d="M40.81,336.13Q0,0 -0.00,-338.60A338.6,338.6 0 0 0 -17.72,-338.14Q0,0 0.00,338.60A338.6,338.6 0 0 0 40.81,336.13Z" fill="#a6dcde" stroke="#fff" stroke-opacity=".22" stroke-width=".7"/>
<path d="M0.00,-376.50A376.5,376.5 0 0 1 174.97,-333.37L166.09,-316.46A357.4,357.4 0 0 0 0.00,-357.40Z" fill="#2b4a8b"/>
<path d="M0.00,-357.70A357.7,357.7 0 0 1 166.23,-316.73L157.36,-299.82A338.6,338.6 0 0 0 0.00,-338.60Z" fill="#6e1c21"/>
<path d="M174.97,-333.37A376.5,376.5 0 0 1 249.67,-281.81L237.00,-267.52A357.4,357.4 0 0 0 166.09,-316.46Z" fill="#c0242d"/>
<path d="M166.23,-316.73A357.7,357.7 0 0 1 237.20,-267.74L224.53,-253.45A338.6,338.6 0 0 0 157.36,-299.82Z" fill="#fad6b0"/>
<path d="M249.67,-281.81A376.5,376.5 0 0 1 333.37,-174.97L316.46,-166.09A357.4,357.4 0 0 0 237.00,-267.52Z" fill="#5a9137"/>
<path d="M237.20,-267.74A357.7,357.7 0 0 1 316.73,-166.23L299.82,-157.36A338.6,338.6 0 0 0 224.53,-253.45Z" fill="#fad9b5"/>
<path d="M333.37,-174.97A376.5,376.5 0 0 1 365.56,-90.10L347.01,-85.53A357.4,357.4 0 0 0 316.46,-166.09Z" fill="#3f9c89"/>
<path d="M316.73,-166.23A357.7,357.7 0 0 1 347.31,-85.60L328.76,-81.03A338.6,338.6 0 0 0 299.82,-157.36Z" fill="#fbdcba"/>
<path d="M365.56,-90.10A376.5,376.5 0 0 1 376.50,-0.00L357.40,-0.00A357.4,357.4 0 0 0 347.01,-85.53Z" fill="#566fa3"/>
<path d="M347.31,-85.60A357.7,357.7 0 0 1 357.70,-0.00L338.60,-0.00A338.6,338.6 0 0 0 328.76,-81.03Z" fill="#fbdfc0"/>
<path d="M376.50,-0.00A376.5,376.5 0 0 1 352.03,133.51L334.17,126.74A357.4,357.4 0 0 0 357.40,-0.00Z" fill="#b56f93"/>
<path d="M357.70,-0.00A357.7,357.7 0 0 1 334.46,126.84L316.60,120.07A338.6,338.6 0 0 0 338.60,-0.00Z" fill="#fce2c6"/>
<path d="M352.03,133.51A376.5,376.5 0 0 1 281.81,249.67L267.52,237.00A357.4,357.4 0 0 0 334.17,126.74Z" fill="#c95468"/>
<path d="M334.46,126.84A357.7,357.7 0 0 1 267.74,237.20L253.45,224.53A338.6,338.6 0 0 0 316.60,120.07Z" fill="#fce5cc"/>
<path d="M281.81,249.67A376.5,376.5 0 0 1 174.97,333.37L166.09,316.46A357.4,357.4 0 0 0 267.52,237.00Z" fill="#9b2d5a"/>
<path d="M267.74,237.20A357.7,357.7 0 0 1 166.23,316.73L157.36,299.82A338.6,338.6 0 0 0 253.45,224.53Z" fill="#fde7d0"/>
<path d="M174.97,333.37A376.5,376.5 0 0 1 90.10,365.56L85.53,347.01A357.4,357.4 0 0 0 166.09,316.46Z" fill="#9bd3c1"/>
<path d="M166.23,316.73A357.7,357.7 0 0 1 85.60,347.31L81.03,328.76A338.6,338.6 0 0 0 157.36,299.82Z" fill="#fdead5"/>
<path d="M90.10,365.56A376.5,376.5 0 0 1 0.00,376.50L0.00,357.40A357.4,357.4 0 0 0 85.53,347.01Z" fill="#a6dcde"/>
<path d="M85.60,347.31A357.7,357.7 0 0 1 0.00,357.70L0.00,338.60A338.6,338.6 0 0 0 81.03,328.76Z" fill="#feeddb"/>
<path d="M-0.00,-376.50A376.5,376.5 0 0 0 -97.45,-363.67L-88.52,-330.35A342.0,342.0 0 0 1 -0.00,-342.00Z" fill="#f2c281"/>
<path d="M-97.45,-363.67A376.5,376.5 0 0 0 -188.25,-326.06L-171.00,-296.18A342.0,342.0 0 0 1 -88.52,-330.35Z" fill="#ef9567"/>
<path d="M-188.25,-326.06A376.5,376.5 0 0 0 -266.23,-266.23L-241.83,-241.83A342.0,342.0 0 0 1 -171.00,-296.18Z" fill="#e96f5c"/>
<path d="M-266.23,-266.23A376.5,376.5 0 0 0 -326.06,-188.25L-296.18,-171.00A342.0,342.0 0 0 1 -241.83,-241.83Z" fill="#dd4a5e"/>
<path d="M-326.06,-188.25A376.5,376.5 0 0 0 -363.67,-97.45L-330.35,-88.52A342.0,342.0 0 0 1 -296.18,-171.00Z" fill="#bd356f"/>
<path d="M-363.67,-97.45A376.5,376.5 0 0 0 -376.50,-0.00L-342.00,-0.00A342.0,342.0 0 0 1 -330.35,-88.52Z" fill="#9c2a7c"/>
<path d="M-376.50,-0.00A376.5,376.5 0 0 0 -363.67,97.45L-330.35,88.52A342.0,342.0 0 0 1 -342.00,-0.00Z" fill="#7d2a83"/>
<path d="M-363.67,97.45A376.5,376.5 0 0 0 -326.06,188.25L-296.18,171.00A342.0,342.0 0 0 1 -330.35,88.52Z" fill="#66297f"/>
<path d="M-326.06,188.25A376.5,376.5 0 0 0 -266.23,266.23L-241.83,241.83A342.0,342.0 0 0 1 -296.18,171.00Z" fill="#4a2b73"/>
<path d="M-266.23,266.23A376.5,376.5 0 0 0 -188.25,326.06L-171.00,296.18A342.0,342.0 0 0 1 -241.83,241.83Z" fill="#2f2850"/>
<path d="M-188.25,326.06A376.5,376.5 0 0 0 -97.45,363.67L-88.52,330.35A342.0,342.0 0 0 1 -171.00,296.18Z" fill="#17142a"/>
<path d="M-97.45,363.67A376.5,376.5 0 0 0 -0.00,376.50L-0.00,342.00A342.0,342.0 0 0 1 -88.52,330.35Z" fill="#0d0d0d"/>
</g>
<text transform="translate(2428.6,1331.0) rotate(88.00)" font-size="51.5" text-anchor="middle" dy="0.33em" fill="#111">C3</text>
<text transform="translate(2295.7,1328.3) rotate(62.00)" font-size="51.5" text-anchor="middle" dy="0.33em" fill="#111">CCND1</text>
<text transform="translate(2192.6,1407.6) rotate(54.00)" font-size="51.5" text-anchor="middle" dy="0.33em" fill="#111">RAC2</text>
<text transform="translate(2101.0,1496.0) rotate(40.00)" font-size="51.5" text-anchor="middle" dy="0.33em" fill="#111">VWF</text>
<text transform="translate(2025.1,1596.7) rotate(25.60)" font-size="51.5" text-anchor="middle" dy="0.33em" fill="#111">CXCL2</text>
<text transform="translate(1979.8,1710.0) rotate(7.50)" font-size="51.5" text-anchor="middle" dy="0.33em" fill="#111">CLEC7A</text>
<text transform="translate(1968.5,1825.1) rotate(-7.00)" font-size="51.5" text-anchor="middle" dy="0.33em" fill="#111">CORO1A</text>
<text transform="translate(2013.8,1940.4) rotate(-25.00)" font-size="51.5" text-anchor="middle" dy="0.33em" fill="#111">ABCA1</text>
<text transform="translate(2072.8,2053.4) rotate(-39.70)" font-size="51.5" text-anchor="middle" dy="0.33em" fill="#111">APOC1</text>
<text transform="translate(2163.6,2145.5) rotate(-54.00)" font-size="51.5" text-anchor="middle" dy="0.33em" fill="#111">ABCG1</text>
<text transform="translate(2278.9,2208.8) rotate(-70.00)" font-size="51.5" text-anchor="middle" dy="0.33em" fill="#111">DWD</text>
<text transform="translate(2392.0,2250.9) rotate(-83.80)" font-size="51.5" text-anchor="middle" dy="0.33em" fill="#111">CXADR</text>
<text x="2962.0" y="1399.0" font-size="51" textLength="284.0" lengthAdjust="spacingAndGlyphs" fill="#111">−log10 (p值)</text>
<rect x="2901.6" y="1425.7" width="18.0" height="46.8" fill="#fde9d6"/>
<rect x="2919.0" y="1425.7" width="18.0" height="46.8" fill="#fbdfc6"/>
<rect x="2936.4" y="1425.7" width="18.0" height="46.8" fill="#f9d6b6"/>
<rect x="2953.9" y="1425.7" width="18.0" height="46.8" fill="#f8cca7"/>
<rect x="2971.3" y="1425.7" width="18.0" height="46.8" fill="#f6c297"/>
<rect x="2988.7" y="1425.7" width="18.0" height="46.8" fill="#f4b987"/>
<rect x="3006.1" y="1425.7" width="18.0" height="46.8" fill="#f2ad7a"/>
<rect x="3023.5" y="1425.7" width="18.0" height="46.8" fill="#ef9e71"/>
<rect x="3041.0" y="1425.7" width="18.0" height="46.8" fill="#ec8f69"/>
<rect x="3058.4" y="1425.7" width="18.0" height="46.8" fill="#e98061"/>
<rect x="3075.8" y="1425.7" width="18.0" height="46.8" fill="#e67159"/>
<rect x="3093.2" y="1425.7" width="18.0" height="46.8" fill="#e16250"/>
<rect x="3110.6" y="1425.7" width="18.0" height="46.8" fill="#da5448"/>
<rect x="3128.1" y="1425.7" width="18.0" height="46.8" fill="#d34740"/>
<rect x="3145.5" y="1425.7" width="18.0" height="46.8" fill="#cc3937"/>
<rect x="3162.9" y="1425.7" width="18.0" height="46.8" fill="#c42b2f"/>
<rect x="3180.3" y="1425.7" width="18.0" height="46.8" fill="#b4262c"/>
<rect x="3197.7" y="1425.7" width="18.0" height="46.8" fill="#a1242a"/>
<rect x="3215.2" y="1425.7" width="18.0" height="46.8" fill="#8f2128"/>
<rect x="3232.6" y="1425.7" width="18.0" height="46.8" fill="#7c1f26"/>
<line x1="2901.6" y1="1473.5" x2="3250" y2="1473.5" stroke="#9a9ca3" stroke-width="2.5"/>
<line x1="2903" y1="1472.5" x2="2903" y2="1485.5" stroke="#3a3f4a" stroke-width="3"/>
<line x1="2932.7" y1="1472.5" x2="2932.7" y2="1485.5" stroke="#3a3f4a" stroke-width="3"/>
<line x1="2989" y1="1472.5" x2="2989" y2="1485.5" stroke="#3a3f4a" stroke-width="3"/>
<line x1="3045" y1="1472.5" x2="3045" y2="1485.5" stroke="#3a3f4a" stroke-width="3"/>
<line x1="3102" y1="1472.5" x2="3102" y2="1485.5" stroke="#3a3f4a" stroke-width="3"/>
<line x1="3158.5" y1="1472.5" x2="3158.5" y2="1485.5" stroke="#3a3f4a" stroke-width="3"/>
<line x1="3215.5" y1="1472.5" x2="3215.5" y2="1485.5" stroke="#3a3f4a" stroke-width="3"/>
<line x1="3248.5" y1="1472.5" x2="3248.5" y2="1485.5" stroke="#3a3f4a" stroke-width="3"/>
<text x="2931.7" y="1510.0" font-size="33.5" text-anchor="middle" fill="#111">2.0</text>
<text x="2988.0" y="1510.0" font-size="33.5" text-anchor="middle" fill="#111">2.5</text>
<text x="3044.0" y="1510.0" font-size="33.5" text-anchor="middle" fill="#111">3.0</text>
<text x="3101.0" y="1510.0" font-size="33.5" text-anchor="middle" fill="#111">3.5</text>
<text x="3157.5" y="1510.0" font-size="33.5" text-anchor="middle" fill="#111">4.0</text>
<text x="3214.5" y="1510.0" font-size="33.5" text-anchor="middle" fill="#111">4.5</text>
<text x="2911.6" y="1554.0" font-size="27.6" textLength="193.0" lengthAdjust="spacingAndGlyphs" fill="#111">KEGG 信号通路</text>
<circle cx="2918" cy="1585.0" r="14.4" fill="#2b4a8b"/>
<text x="2947.0" y="1592.8" font-size="27.6" fill="#111">病毒性心肌炎</text>
<circle cx="2918" cy="1615.5" r="14.4" fill="#c0242d"/>
<text x="2947.0" y="1623.6" font-size="27.6" fill="#111">ABC转运蛋白</text>
<circle cx="2918" cy="1646.0" r="14.4" fill="#5a9137"/>
<text x="2947.0" y="1654.5" font-size="27.6" fill="#111">吞噬体</text>
<circle cx="2918" cy="1676.5" r="14.4" fill="#3f9c89"/>
<text x="2947.0" y="1685.3" font-size="27.6" fill="#111">胆固醇代谢</text>
<circle cx="2918" cy="1707.0" r="14.4" fill="#566fa3"/>
<text x="2947.0" y="1716.2" font-size="27.6" fill="#111">军团菌病</text>
<circle cx="2918" cy="1737.5" r="14.4" fill="#b56f93"/>
<text x="2947.0" y="1747.0" font-size="27.6" fill="#111">结核病</text>
<circle cx="2918" cy="1768.0" r="14.4" fill="#c95468"/>
<text x="2947.0" y="1777.9" font-size="27.6" fill="#111">卡波西肉瘤相关疱疹病毒感染</text>
<circle cx="2918" cy="1798.5" r="14.4" fill="#9b2d5a"/>
<text x="2947.0" y="1808.8" font-size="27.6" fill="#111">细胞-基质黏附结构</text>
<circle cx="2918" cy="1829.0" r="14.4" fill="#9bd3c1"/>
<text x="2947.0" y="1839.6" font-size="27.6" fill="#111">胰腺恶性肿瘤</text>
<circle cx="2918" cy="1859.5" r="14.4" fill="#a6dcde"/>
<text x="2947.0" y="1870.5" font-size="27.6" fill="#111">补体与凝血级联反应</text>
</svg></body></html>
